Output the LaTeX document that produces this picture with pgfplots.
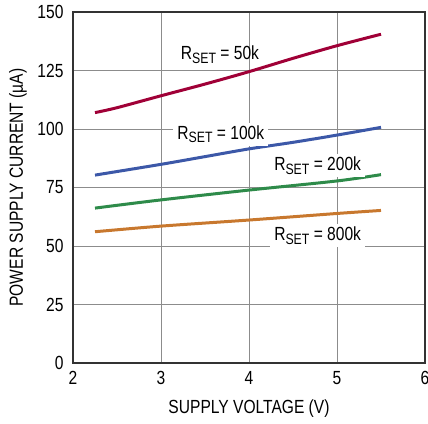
\documentclass[border=0pt]{standalone}
\usepackage{fontspec}
\setmainfont{Liberation Sans}[FakeStretch=0.82]
\usepackage{pgfplots}
\pgfplotsset{compat=1.18}
\definecolor{cred}{RGB}{160,0,55}
\definecolor{cblue}{RGB}{60,88,168}
\definecolor{cgreen}{RGB}{46,139,74}
\definecolor{corange}{RGB}{200,120,46}
\definecolor{cgrid}{RGB}{140,140,140}
\newcommand{\rset}[1]{R{\fontsize{15bp}{16bp}\selectfont\raisebox{-3.5bp}{SET}} = #1}
\begin{document}
\begin{tikzpicture}
\begin{axis}[
  name=ax,
  scale only axis,
  width=352bp, height=351bp,
  xmin=2, xmax=6, ymin=0, ymax=150,
  xtick={2,3,4,5,6}, ytick={0,25,50,75,100,125,150},
  grid=major,
  major grid style={cgrid, line width=1bp},
  axis line style={black!80, line width=1.5bp},
  tick style={draw=none},
  /pgf/number format/assume math mode=true,
  tick label style={font=\fontsize{19bp}{21bp}\selectfont},
  label style={font=\fontsize{19bp}{21bp}\selectfont},
  xticklabel style={yshift=-5bp},
  yticklabel style={xshift=-6bp},
  xlabel={SUPPLY VOLTAGE (V)},
  ylabel={POWER SUPPLY CURRENT (µA)},
  xlabel style={at={(axis description cs:0.5,0)}, anchor=center, yshift=-46bp},
  ylabel style={at={(axis description cs:0,0.5)}, anchor=center, rotate=0, yshift=55bp},
  every axis plot/.append style={line width=3bp, smooth, tension=0.5},
  clip=false,
]
\addplot[cred] coordinates {(2.25,107.0) (2.5,109.1) (3,114.2) (3.5,119.2) (4,124.5) (4.5,130.2) (5,135.6) (5.5,140.5)};
\addplot[cblue] coordinates {(2.25,80.3) (3,84.9) (3.5,88.2) (4,91.5) (4.5,94.3) (5,97.4) (5.5,100.7)};
\addplot[cgreen] coordinates {(2.25,66.2) (3,69.7) (4,73.9) (5,77.8) (5.5,80.5)};
\addplot[corange] coordinates {(2.25,56.1) (3,58.5) (4,61.1) (5,63.9) (5.5,65.2)};
\begin{scope}[every node/.style={font=\fontsize{19bp}{21bp}\selectfont, anchor=base, fill=white, inner xsep=4bp, inner ysep=3bp}]
\node[fill=none] at (axis cs:3.67,129.5) {\rset{50k}};
\node at (axis cs:3.68,95.6) {\rset{100k}};
\node at (axis cs:4.78,82.2) {\rset{200k}};
\node at (axis cs:4.78,52.3) {\rset{800k}};
\end{scope}
\end{axis}
\pgfresetboundingbox
\path ([shift={(-73bp,-60bp)}]ax.south west) rectangle ([shift={(3bp,12bp)}]ax.north east);
\end{tikzpicture}
\end{document}
